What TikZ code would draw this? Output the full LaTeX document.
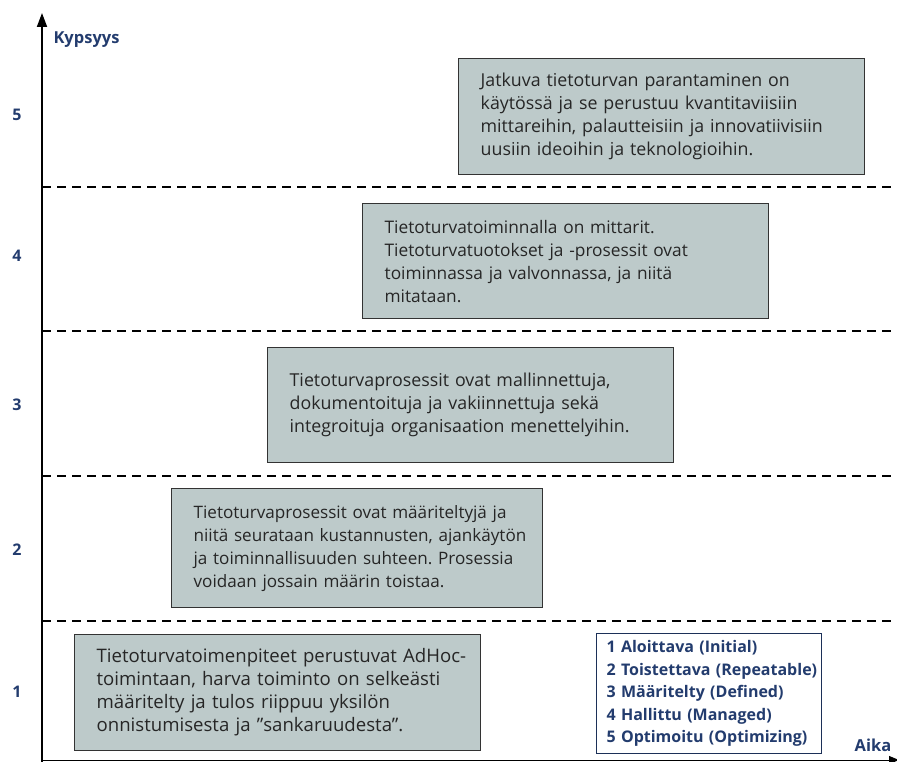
\documentclass[tikz,border=0pt]{standalone}
\usepackage{fontspec}
\setmainfont{Open Sans}
\usetikzlibrary{arrows.meta}
\definecolor{boxfill}{RGB}{189,202,202}
\definecolor{lblue}{RGB}{35,60,110}
\frenchspacing
\begin{document}
\begin{tikzpicture}[x=1pt,y=-1pt,
  descbox/.style={draw=black!80, line width=1.3pt, fill=boxfill, anchor=north west, align=left, inner xsep=22pt, inner ysep=0pt, font=\fontsize{#1}{23}\selectfont, text=black!85},
  descbox/.default=17.8,
  levellbl/.style={font=\bfseries\fontsize{16}{18}\selectfont, text=lblue},
  axislbl/.style={font=\bfseries\fontsize{16.5}{18}\selectfont, text=lblue},
  sepline/.style={dash pattern=on 9pt off 6pt, line width=1.8pt},
  axisline/.style={line width=1.8pt, -{Triangle[length=14pt,width=10pt]}},
  legendbox/.style={draw=lblue!80!black, line width=1.1pt, fill=white, anchor=north west, align=left, inner xsep=10pt, inner ysep=0pt, font=\bfseries\fontsize{16}{22.5}\selectfont, text=lblue}]
\useasboundingbox (0,0) rectangle (897,762);

% axes
\coordinate (yo) at (42,762);
\coordinate (ytop) at (42,13);
\coordinate (xo) at (42,760);
\coordinate (xend) at (899,760);
\draw[line width=1pt, -{Triangle[length=10pt,width=8pt]}] (xo) -- (xend);
\draw[axisline] (yo) -- (ytop);
\node[axislbl, anchor=west] (ky) at (50,40) {Kypsyys};
\node[axislbl] (aika) at (873,745) {Aika};

% separators
\coordinate (s4l) at (42,187); \coordinate (s4r) at (897,187);
\coordinate (s3l) at (42,331); \coordinate (s3r) at (897,331);
\coordinate (s2l) at (42,476); \coordinate (s2r) at (897,476);
\coordinate (s1l) at (42,621); \coordinate (s1r) at (897,621);
\draw[sepline] (s4l) -- (s4r);
\draw[sepline] (s3l) -- (s3r);
\draw[sepline] (s2l) -- (s2r);
\draw[sepline] (s1l) -- (s1r);

% level numbers
\node[levellbl] (n5) at (17,115) {5};
\node[levellbl] (n4) at (17,256) {4};
\node[levellbl] (n3) at (17,405) {3};
\node[levellbl] (n2) at (17,550) {2};
\node[levellbl] (n1) at (17,692) {1};

% boxes
\node[descbox=17.8, text width=362pt, minimum height=116pt] (b5) at (458,58)
  {\mbox{Jatkuva tietoturvan parantaminen on}\\\mbox{käytössä ja se perustuu kvantitaviisiin}\\\mbox{mittareihin, palautteisiin ja innovatiivisiin}\\\mbox{uusiin ideoihin ja teknologioihin.}};
\node[descbox=17.3, text width=362pt, minimum height=115pt] (b4) at (362,203)
  {\mbox{Tietoturvatoiminnalla on mittarit.}\\\mbox{Tietoturvatuotokset ja -prosessit ovat}\\\mbox{toiminnassa ja valvonnassa, ja niitä}\\\mbox{mitataan.}};
\node[descbox=17.8, text width=362pt, minimum height=115pt] (b3) at (267,347)
  {\mbox{Tietoturvaprosessit ovat mallinnettuja,}\\\mbox{dokumentoituja ja vakiinnettuja sekä}\\\mbox{integroituja organisaation menettelyihin.}};
\node[descbox=17.1, text width=327pt, minimum height=119pt] (b2) at (171,488)
  {\mbox{Tietoturvaprosessit ovat määriteltyjä ja}\\\mbox{niitä seurataan kustannusten, ajankäytön}\\\mbox{ja toiminnallisuuden suhteen. Prosessia}\\\mbox{voidaan jossain määrin toistaa.}};
\node[descbox=18.6, text width=362pt, minimum height=116pt] (b1) at (74,634)
  {\mbox{Tietoturvatoimenpiteet perustuvat AdHoc-}\\\mbox{toimintaan, harva toiminto on selkeästi}\\\mbox{määritelty ja tulos riippuu yksilön}\\\mbox{onnistumisesta ja ”sankaruudesta”.}};

% legend
\node[legendbox, text width=205pt, minimum height=120pt] (leg) at (596,633)
  {\mbox{1 Aloittava (Initial)}\\\mbox{2 Toistettava (Repeatable)}\\\mbox{3 Määritelty (Defined)}\\\mbox{4 Hallittu (Managed)}\\\mbox{5 Optimoitu (Optimizing)}};
\end{tikzpicture}
\end{document}
